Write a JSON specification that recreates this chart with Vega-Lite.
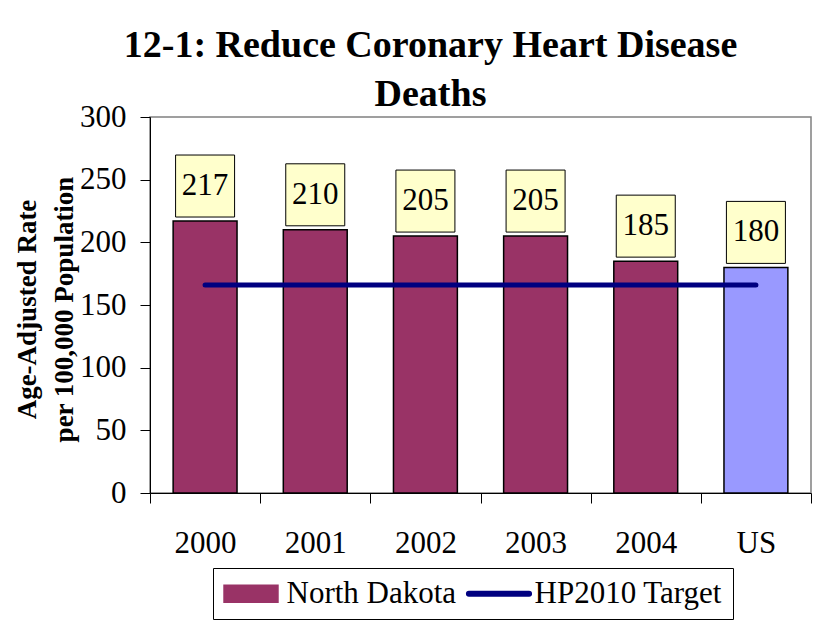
{
  "$schema": "https://vega.github.io/schema/vega-lite/v6.json",
  "width": 661,
  "height": 376,
  "autosize": "none",
  "padding": {"left": 150, "top": 117, "right": 19, "bottom": 140},
  "background": "white",
  "title": {
    "text": ["12-1: Reduce Coronary Heart Disease", "Deaths"],
    "font": "Liberation Serif",
    "fontSize": 38,
    "fontWeight": "bold",
    "color": "black",
    "lineHeight": 49,
    "anchor": "middle",
    "frame": "group",
    "dx": -50,
    "offset": -13
  },
  "datasets": {
    "rates": [
      {"cat": "2000", "rate": 217, "series": "North Dakota"},
      {"cat": "2001", "rate": 210, "series": "North Dakota"},
      {"cat": "2002", "rate": 205, "series": "North Dakota"},
      {"cat": "2003", "rate": 205, "series": "North Dakota"},
      {"cat": "2004", "rate": 185, "series": "North Dakota"},
      {"cat": "US", "rate": 180, "series": "United States"}
    ],
    "target": [
      {"cat": "2000", "target": 166},
      {"cat": "2001", "target": 166},
      {"cat": "2002", "target": 166},
      {"cat": "2003", "target": 166},
      {"cat": "2004", "target": 166},
      {"cat": "US", "target": 166}
    ]
  },
  "encoding": {
    "x": {
      "field": "cat",
      "type": "nominal",
      "sort": ["2000", "2001", "2002", "2003", "2004", "US"],
      "scale": {"type": "band", "paddingInner": 0, "paddingOuter": 0},
      "axis": {
        "title": null,
        "labelFont": "Liberation Serif",
        "labelFontSize": 31,
        "labelColor": "black",
        "labelAngle": 0,
        "labelBaseline": "alphabetic",
        "labelPadding": 49,
        "tickSize": 10,
        "tickColor": "black",
        "tickBand": "extent",
        "domainColor": "black",
        "domainWidth": 1,
        "grid": false
      }
    }
  },
  "layer": [
    {
      "data": {"name": "rates"},
      "mark": {"type": "bar", "width": {"band": 0.58}, "stroke": "black", "strokeWidth": 1.5},
      "encoding": {
        "y": {
          "field": "rate",
          "type": "quantitative",
          "scale": {"domain": [0, 300], "nice": false},
          "axis": {
            "values": [0, 50, 100, 150, 200, 250, 300],
            "title": ["Age-Adjusted Rate", "per 100,000 Population"],
            "titleFont": "Liberation Serif",
            "titleFontWeight": "bold",
            "titleFontSize": 27,
            "titleColor": "black",
            "titleLineHeight": 37,
            "titlePadding": 1,
            "titleY": 192,
            "labelFont": "Liberation Serif",
            "labelFontSize": 31,
            "labelColor": "black",
            "labelPadding": 14,
            "tickSize": 10,
            "tickColor": "black",
            "domainColor": "black",
            "grid": false
          }
        },
        "color": {
          "field": "series",
          "type": "nominal",
          "condition": {"test": "datum.cat === 'US'", "value": "#9999ff"},
          "scale": {"domain": ["North Dakota", "HP2010 Target"], "range": ["#993366", "#000080"]},
          "legend": {
            "title": null,
            "orient": "none",
            "legendX": 63,
            "legendY": 451,
            "direction": "horizontal",
            "labelFont": "Liberation Serif",
            "labelFontSize": 31,
            "labelColor": "black",
            "labelLimit": 400,
            "strokeColor": "black",
            "fillColor": "white",
            "padding": 10,
            "symbolSize": 841,
            "symbolOpacity": 1,
            "symbolStrokeWidth": 1.5,
            "symbolOffset": 12.5,
            "labelOffset": 20,
            "columnPadding": 6,
            "symbolType": {"expr": "datum.value === 'HP2010 Target' ? 'M-2.07,-0.16H2.07A0.16,0.16 0 0 1 2.07,0.16H-2.07A0.16,0.16 0 0 1 -2.07,-0.16Z' : 'M-1.86,-0.59H1.86V0.59H-1.86Z'"},
            "symbolStrokeColor": {"expr": "datum.value === 'HP2010 Target' ? '#000080' : 'black'"}
          }
        }
      }
    },
    {
      "data": {"name": "target"},
      "mark": {"type": "line", "strokeWidth": 5, "strokeCap": "round"},
      "encoding": {
        "y": {"field": "target", "type": "quantitative"},
        "color": {"datum": "HP2010 Target", "legend": null}
      }
    },
    {
      "data": {"name": "rates"},
      "mark": {"type": "bar", "width": 59, "fill": "#ffffcc", "stroke": "black", "strokeWidth": 1, "yOffset": -4, "y2Offset": -66},
      "encoding": {
        "y": {"field": "rate", "type": "quantitative"},
        "y2": {"field": "rate"}
      }
    },
    {
      "data": {"name": "rates"},
      "mark": {"type": "text", "font": "Liberation Serif", "fontSize": 31, "color": "black", "baseline": "middle", "dy": -35},
      "encoding": {
        "y": {"field": "rate", "type": "quantitative"},
        "text": {"field": "rate", "type": "quantitative"}
      }
    }
  ],
  "config": {
    "view": {"stroke": "#808080", "strokeWidth": 1.5, "fill": "white"}
  }
}
